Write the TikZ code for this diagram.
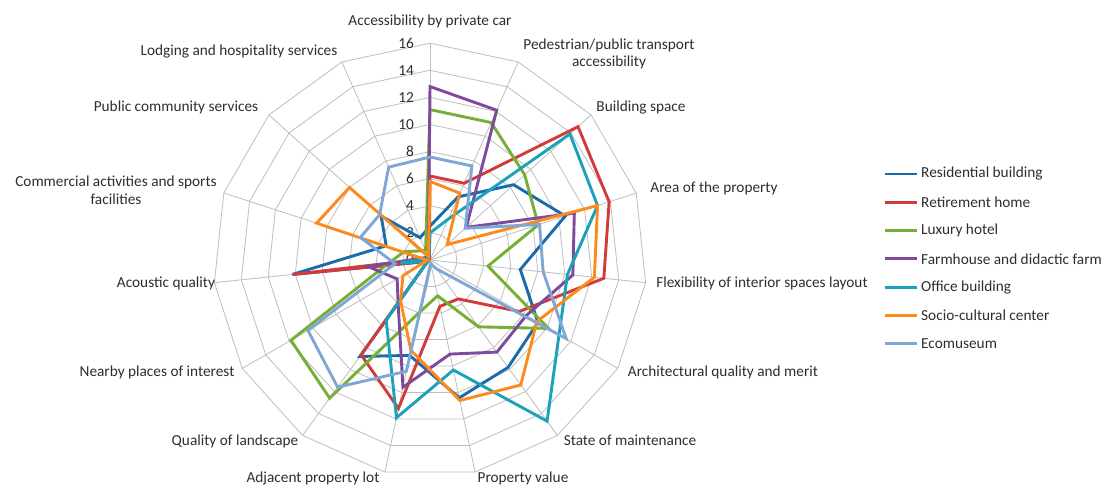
\documentclass[tikz,border=0pt]{standalone}
\usepackage{fontspec}
\setmainfont{Carlito}
\definecolor{cDB}{HTML}{1B6BAA}
\definecolor{cRD}{HTML}{D33A3A}
\definecolor{cGR}{HTML}{76AE36}
\definecolor{cPU}{HTML}{7D4A9C}
\definecolor{cTE}{HTML}{1AA2BA}
\definecolor{cOR}{HTML}{FF8A1C}
\definecolor{cLB}{HTML}{7EA7D8}
\definecolor{cGRID}{HTML}{BEBEBE}
\tikzset{
  gridline/.style={draw=cGRID, line width=0.8pt},
  series/.style={line width=2.9pt, line join=miter, miter limit=4},
  lbl/.style={font=\fontsize{15.3}{17.5}\selectfont, text=black!82, inner sep=0pt},
  tick/.style={font=\fontsize{15.3}{17.5}\selectfont, text=black!82, anchor=east, inner sep=0pt},
  leg/.style={line width=2.9pt}
}
\begin{document}
\begin{tikzpicture}[x=1pt,y=1pt]
\useasboundingbox[fill=white] (0,0) rectangle (1104,488);
\def\U{13.55}
\begin{scope}[shift={(430,228)}]
  % grid rings
  \foreach \r in {2,4,...,16}{
    \draw[gridline] (90:\r*\U) \foreach \k in {1,...,14}{ -- ({90-24*\k}:\r*\U)} -- cycle;
  }
  % spokes
  \foreach \k in {0,...,14}{
    \draw[gridline] (0,0) -- ({90-24*\k}:16*\U);
  }
  % tick labels
  \foreach \r in {0,2,...,16}{
    \node[tick] (t\r) at (-16,\r*\U) {\r};
  }
  % series
  \draw[series, cDB] (90:2.5*\U) \foreach \v [count=\k] in {5.1,8.3,10.5,6.7,9.2,9.8,10.4,7.2,8.8,0.2,10.2,3.4,4.85,1.8}{ -- ({90-24*\k}:\v*\U)} -- cycle;
  \draw[series, cRD] (90:6.2*\U) \foreach \v [count=\k] in {6.2,14.7,13.9,12.9,7.6,3.55,3.5,11.2,8.65,0.2,10.2,0.3,0.1,0.1}{ -- ({90-24*\k}:\v*\U)} -- cycle;
  \draw[series, cGR] (90:11.1*\U) \foreach \v [count=\k] in {11.1,9.4,8.4,4.3,10.1,6.1,2.7,4.0,12.6,11.85,3.2,2.0,1.0,0.8}{ -- ({90-24*\k}:\v*\U)} -- cycle;
  \draw[series, cPU] (90:12.8*\U) \foreach \v [count=\k] in {12.1,3.6,11.2,10.6,8.2,8.4,7.1,9.6,4.0,2.8,4.6,0.5,0.3,0.3}{ -- ({90-24*\k}:\v*\U)} -- cycle;
  \draw[series, cTE] (90:2.0*\U) \foreach \v [count=\k] in {3.3,13.9,13.0,10.2,11.0,14.7,8.3,11.9,5.5,0.2,2.2,0.3,0.2,0.2}{ -- ({90-24*\k}:\v*\U)} -- cycle;
  \draw[series, cOR] (90:5.8*\U) \foreach \v [count=\k] in {5.4,1.7,13.0,12.2,9.1,11.4,10.6,6.8,3.7,2.3,0.2,8.8,8.0,0.3}{ -- ({90-24*\k}:\v*\U)} -- cycle;
  \draw[series, cLB] (90:7.6*\U) \foreach \v [count=\k] in {7.6,3.5,8.5,8.4,11.6,0.8,0.3,8.4,11.6,10.4,2.6,5.4,5.0,7.5}{ -- ({90-24*\k}:\v*\U)} -- cycle;
\end{scope}
% category labels (image y -> 488-y)
\node[lbl] (c0) at (430,467) {Accessibility by private car};
\node[lbl, align=center] (c1) at (609,434) {Pedestrian/public transport\\accessibility};
\node[lbl] (c2) at (641,380) {Building space};
\node[lbl] (c3) at (714,300) {Area of the property};
\node[lbl] (c4) at (762,205) {Flexibility of interior spaces layout};
\node[lbl] (c5) at (723,116) {Architectural quality and merit};
\node[lbl] (c6) at (630,48) {State of maintenance};
\node[lbl] (c7) at (523,10) {Property value};
\node[lbl] (c8) at (313,10) {Adjacent property lot};
\node[lbl] (c9) at (235,47) {Quality of landscape};
\node[lbl] (c10) at (157,116) {Nearby places of interest};
\node[lbl] (c11) at (166,205) {Acoustic quality};
\node[lbl, align=center] (c12) at (116,298) {Commercial activities and sports\\facilities};
\node[lbl] (c13) at (176,381) {Public community services};
\node[lbl] (c14) at (239,436) {Lodging and hospitality services};
% legend
\foreach \c/\t [count=\i from 0] in {cDB/Residential building, cRD/Retirement home, cGR/Luxury hotel, cPU/Farmhouse and didactic farm, cTE/Office building, cOR/Socio-cultural center, cLB/Ecomuseum}{
  \coordinate (la\i) at (885,{488-174-28.3*\i});
  \coordinate (lb\i) at (917,{488-174-28.3*\i});
  \draw[leg, \c] (la\i) -- (lb\i);
  \node[lbl, anchor=west] (lt\i) at (921,{488-174-28.3*\i}) {\t};
}
\end{tikzpicture}
\end{document}
